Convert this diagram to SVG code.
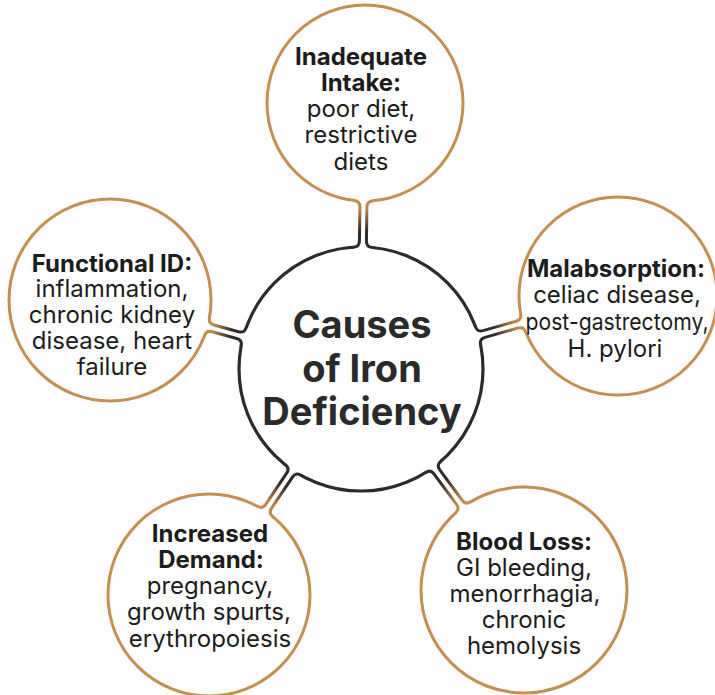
<svg xmlns="http://www.w3.org/2000/svg" width="715" height="695" viewBox="0 0 715 695">
<style>
.bg{fill:#ffffff}
.outer{fill:#ffffff;stroke:#c4904f;stroke-width:3}
.center{fill:#ffffff;stroke:#2b2b2b;stroke-width:3.2}
.cover{fill:#ffffff;stroke:none}
.neck{fill:none;stroke:url(#neckGrad);stroke-width:3;stroke-linecap:round}
text{font-family:Inter,"Liberation Sans",sans-serif;fill:#1c1c1c;text-anchor:middle}
.h{font-size:24px;font-weight:700}
.b{font-size:24px;font-weight:400}
.title{font-size:38px;font-weight:700;fill:#2a2a2a}
</style>
<defs>
<linearGradient id="neckGrad" x1="0" y1="0" x2="1" y2="0">
<stop offset="0" stop-color="#2b2b2b"/>
<stop offset="0.35" stop-color="#2f2b27"/>
<stop offset="0.8" stop-color="#b98546"/>
<stop offset="1" stop-color="#c4904f"/>
</linearGradient>
</defs>
<rect class="bg" x="0" y="0" width="715" height="695"/>
<g id="center-node">
<circle class="center" cx="361" cy="369" r="122"/>
<text class="title" x="362" y="338">Causes</text>
<text class="title" x="362" y="382">of Iron</text>
<text class="title" x="362" y="425">Deficiency</text>
</g>
<g id="node-intake">
<circle class="outer" cx="365" cy="103" r="98"/>
<text class="h" x="361" y="65">Inadequate</text>
<text class="h" x="361" y="91">Intake:</text>
<text class="b" x="361" y="117">poor diet,</text>
<text class="b" x="361" y="143">restrictive</text>
<text class="b" x="361" y="170">diets</text>
</g>
<g id="node-functional">
<circle class="outer" cx="110" cy="300" r="101"/>
<text class="h" x="112" y="272">Functional ID:</text>
<text class="b" x="112" y="297">inflammation,</text>
<text class="b" x="112" y="323">chronic kidney</text>
<text class="b" x="112" y="349">disease, heart</text>
<text class="b" x="112" y="375">failure</text>
</g>
<g id="node-malabsorption">
<circle class="outer" cx="618" cy="296" r="99"/>
<text class="h" x="616" y="277">Malabsorption:</text>
<text class="b" x="617" y="303">celiac disease,</text>
<text class="b" x="617" y="330" textLength="183" lengthAdjust="spacingAndGlyphs">post-gastrectomy,</text>
<text class="b" x="615" y="357">H. pylori</text>
</g>
<g id="node-demand">
<circle class="outer" cx="209" cy="595" r="101"/>
<text class="h" x="210" y="542">Increased</text>
<text class="h" x="211" y="568">Demand:</text>
<text class="b" x="210" y="594">pregnancy,</text>
<text class="b" x="209" y="620">growth spurts,</text>
<text class="b" x="210" y="647">erythropoiesis</text>
</g>
<g id="node-bloodloss">
<circle class="outer" cx="524" cy="590" r="103"/>
<text class="h" x="524" y="550">Blood Loss:</text>
<text class="b" x="524" y="576">GI bleeding,</text>
<text class="b" x="525" y="602">menorrhagia,</text>
<text class="b" x="524" y="628">chronic</text>
<text class="b" x="524" y="654">hemolysis</text>
</g>
<g id="connectors">
<g transform="translate(361 369) rotate(-89.14)">
<path class="cover" d="M117.5 -9.49 L121.63 -9.49 Q121.95 -3.5 127.95 -3.5 L162.09 -3.5 Q168.09 -3.5 168.49 -9.49 L170.29 -9.49 L170.29 9.49 L168.49 9.49 Q168.09 3.5 162.09 3.5 L127.95 3.5 Q121.95 3.5 121.63 9.49 L117.5 9.49 Z"/>
<path class="neck" d="M121.63 -9.49 Q121.95 -3.5 127.95 -3.5 L162.09 -3.5 Q168.09 -3.5 168.49 -9.49"/>
<path class="neck" d="M121.63 9.49 Q121.95 3.5 127.95 3.5 L162.09 3.5 Q168.09 3.5 168.49 9.49"/>
</g>
<g transform="translate(361 369) rotate(-164.63)">
<path class="cover" d="M117.5 -9.49 L121.63 -9.49 Q121.95 -3.5 127.95 -3.5 L153.37 -3.5 Q159.37 -3.5 159.76 -9.49 L161.56 -9.49 L161.56 9.49 L159.76 9.49 Q159.37 3.5 153.37 3.5 L127.95 3.5 Q121.95 3.5 121.63 9.49 L117.5 9.49 Z"/>
<path class="neck" d="M121.63 -9.49 Q121.95 -3.5 127.95 -3.5 L153.37 -3.5 Q159.37 -3.5 159.76 -9.49"/>
<path class="neck" d="M121.63 9.49 Q121.95 3.5 127.95 3.5 L153.37 3.5 Q159.37 3.5 159.76 9.49"/>
</g>
<g transform="translate(361 369) rotate(-15.86)">
<path class="cover" d="M117.5 -9.49 L121.63 -9.49 Q121.95 -3.5 127.95 -3.5 L162.23 -3.5 Q168.23 -3.5 168.63 -9.49 L170.43 -9.49 L170.43 9.49 L168.63 9.49 Q168.23 3.5 162.23 3.5 L127.95 3.5 Q121.95 3.5 121.63 9.49 L117.5 9.49 Z"/>
<path class="neck" d="M121.63 -9.49 Q121.95 -3.5 127.95 -3.5 L162.23 -3.5 Q168.23 -3.5 168.63 -9.49"/>
<path class="neck" d="M121.63 9.49 Q121.95 3.5 127.95 3.5 L162.23 3.5 Q168.23 3.5 168.63 9.49"/>
</g>
<g transform="translate(361 369) rotate(123.93)">
<path class="cover" d="M117.5 -9.49 L121.63 -9.49 Q121.95 -3.5 127.95 -3.5 L165.42 -3.5 Q171.42 -3.5 171.81 -9.49 L173.61 -9.49 L173.61 9.49 L171.81 9.49 Q171.42 3.5 165.42 3.5 L127.95 3.5 Q121.95 3.5 121.63 9.49 L117.5 9.49 Z"/>
<path class="neck" d="M121.63 -9.49 Q121.95 -3.5 127.95 -3.5 L165.42 -3.5 Q171.42 -3.5 171.81 -9.49"/>
<path class="neck" d="M121.63 9.49 Q121.95 3.5 127.95 3.5 L165.42 3.5 Q171.42 3.5 171.81 9.49"/>
</g>
<g transform="translate(361 369) rotate(53.59)">
<path class="cover" d="M117.5 -9.49 L121.63 -9.49 Q121.95 -3.5 127.95 -3.5 L165.67 -3.5 Q171.67 -3.5 172.05 -9.49 L173.85 -9.49 L173.85 9.49 L172.05 9.49 Q171.67 3.5 165.67 3.5 L127.95 3.5 Q121.95 3.5 121.63 9.49 L117.5 9.49 Z"/>
<path class="neck" d="M121.63 -9.49 Q121.95 -3.5 127.95 -3.5 L165.67 -3.5 Q171.67 -3.5 172.05 -9.49"/>
<path class="neck" d="M121.63 9.49 Q121.95 3.5 127.95 3.5 L165.67 3.5 Q171.67 3.5 172.05 9.49"/>
</g>
</g>
</svg>
